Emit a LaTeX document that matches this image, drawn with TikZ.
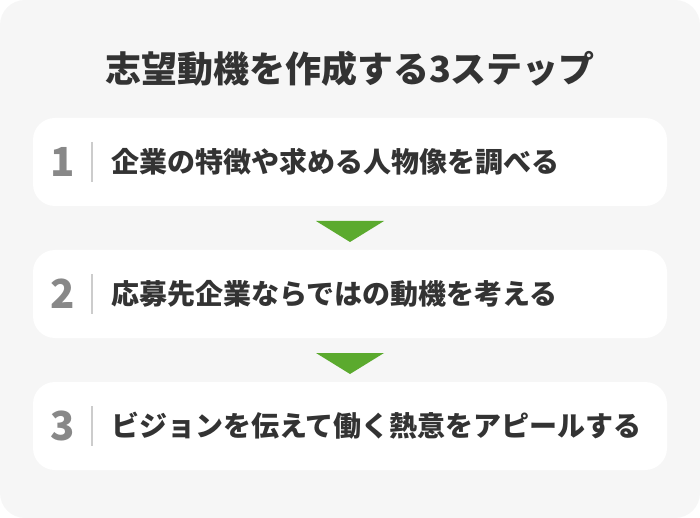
\documentclass[tikz,border=0pt]{standalone}
\usepackage{fontspec}
\setmainfont{Noto Sans CJK JP}
\definecolor{bggray}{HTML}{F6F6F6}
\definecolor{textgray}{HTML}{333333}
\definecolor{numgray}{HTML}{888888}
\definecolor{linegray}{HTML}{CCCCCC}
\definecolor{arrowgreen}{HTML}{5BAA2E}
\begin{document}
\begin{tikzpicture}[x=1pt,y=-1pt,
  stepbox/.style={fill=white,rounded corners=22pt,minimum width=634pt,minimum height=88pt,inner sep=0pt},
  stepnum/.style={text=numgray,font=\bfseries\fontsize{40}{40}\selectfont,inner sep=0pt},
  steptext/.style={text=textgray,font=\bfseries\fontsize{28}{30}\selectfont,anchor=west,inner sep=0pt},
  divider/.style={draw=linegray,line width=1.2pt},
  downmark/.style={fill=arrowgreen}]
\fill[bggray,rounded corners=25pt] (0,0) rectangle (700,518);
\useasboundingbox (0,0) rectangle (700,518);
\node(title) at (350,69)[text=textgray,font=\bfseries\fontsize{36}{40}\selectfont]{志望動機を作成する3ステップ};
% step 1
\node(step1)[stepbox] at (350,162){};
\node(num1)[stepnum] at (63,162){1};
\draw[divider] (92,142) -- (92,182);
\node(text1)[steptext] at (111,162){企業の特徴や求める人物像を調べる};
\fill[downmark] (316,221) -- (384,221) -- (350,242) -- cycle;
% step 2
\node(step2)[stepbox] at (350,294){};
\node(num2)[stepnum] at (63,294){2};
\draw[divider] (92,274) -- (92,314);
\node(text2)[steptext] at (111,294){応募先企業ならではの動機を考える};
\fill[downmark] (316,353) -- (384,353) -- (350,374) -- cycle;
% step 3
\node(step3)[stepbox] at (350,426){};
\node(num3)[stepnum] at (63,426){3};
\draw[divider] (92,406) -- (92,446);
\node(text3)[steptext] at (111,426){ビジョンを伝えて働く熱意をアピールする};
\end{tikzpicture}
\end{document}
